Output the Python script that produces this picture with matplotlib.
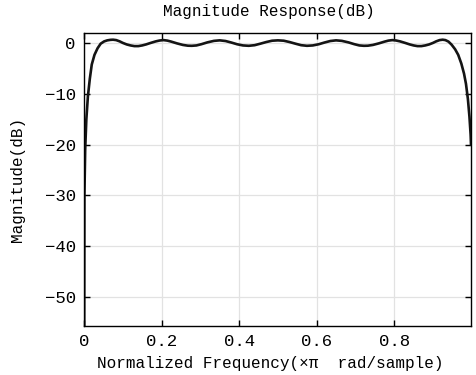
import numpy as np
import matplotlib.pyplot as plt

# 幅频响应数据
freq = [0.000, 0.001, 0.003, 0.006, 0.010, 0.015, 0.020, 0.027, 0.035, 0.043,
        0.052, 0.060, 0.068, 0.075, 0.083, 0.092, 0.100, 0.110, 0.120, 0.130,
        0.140, 0.150, 0.160, 0.172, 0.185, 0.195, 0.205, 0.215, 0.225, 0.240,
        0.255, 0.268, 0.278, 0.290, 0.303, 0.318, 0.335, 0.350, 0.365, 0.380,
        0.395, 0.410, 0.425, 0.440, 0.455, 0.470, 0.485, 0.500, 0.515, 0.530,
        0.545, 0.560, 0.575, 0.590, 0.605, 0.620, 0.635, 0.650, 0.665, 0.682,
        0.697, 0.710, 0.722, 0.732, 0.745, 0.760, 0.775, 0.785, 0.795, 0.805,
        0.815, 0.828, 0.840, 0.850, 0.860, 0.870, 0.880, 0.890, 0.900, 0.908,
        0.917, 0.925, 0.932, 0.940, 0.948, 0.957, 0.965, 0.973, 0.980, 0.985,
        0.990, 0.994, 0.997, 0.998]
mag_db = [-80.0, -30.0, -21.0, -15.0, -10.5, -7.0, -4.2, -2.3, -1.0, -0.1,
          0.35, 0.55, 0.65, 0.68, 0.6, 0.35, 0.05, -0.25, -0.45, -0.58,
          -0.58, -0.45, -0.25, 0.05, 0.35, 0.52, 0.6, 0.5, 0.3, -0.05,
          -0.35, -0.5, -0.52, -0.45, -0.2, 0.15, 0.45, 0.55, 0.42, 0.12,
          -0.22, -0.45, -0.52, -0.4, -0.1, 0.22, 0.48, 0.55, 0.48, 0.22,
          -0.1, -0.4, -0.52, -0.45, -0.22, 0.12, 0.42, 0.55, 0.45, 0.15,
          -0.2, -0.45, -0.52, -0.5, -0.35, -0.05, 0.3, 0.5, 0.6, 0.52,
          0.35, 0.05, -0.25, -0.45, -0.58, -0.58, -0.45, -0.25, 0.05, 0.35,
          0.6, 0.68, 0.6, 0.3, -0.3, -1.2, -2.3, -4.0, -6.0, -8.0,
          -11.0, -14.5, -18.0, -20.0]

xticks = [0, 0.2, 0.4, 0.6, 0.8]
xtick_labels = ['0', '0.2', '0.4', '0.6', '0.8']
yticks = [0, -10, -20, -30, -40, -50]

plt.rcParams['font.family'] = ['Liberation Mono', 'DejaVu Sans']
plt.rcParams['axes.unicode_minus'] = True

fig = plt.figure(figsize=(4.76, 3.75), dpi=100)
ax = fig.add_axes([0.1765, 0.1307, 0.813, 0.7813])

ax.plot(freq, mag_db, color='#141414', linewidth=1.9)

ax.set_xlim(0, 0.998)
ax.set_ylim(-55.7, 2.0)
ax.set_xticks(xticks)
ax.set_xticklabels(xtick_labels)
ax.set_yticks(yticks)
ax.tick_params(direction='in', top=True, right=True, length=4, width=1,
               labelsize=12.5, pad=6)
ax.grid(True, color='#e2e2e2', linewidth=0.9)
ax.set_axisbelow(True)
for s in ax.spines.values():
    s.set_linewidth(1.0)

ax.set_title('Magnitude Response(dB)', fontsize=11.5, pad=12, x=0.478)
ax.set_xlabel('Normalized Frequency(×π  rad/sample)', fontsize=11.5, labelpad=5, x=0.48)
ax.set_ylabel('Magnitude(dB)', fontsize=11.5, labelpad=14)

fig.savefig('out.png', dpi=100)
